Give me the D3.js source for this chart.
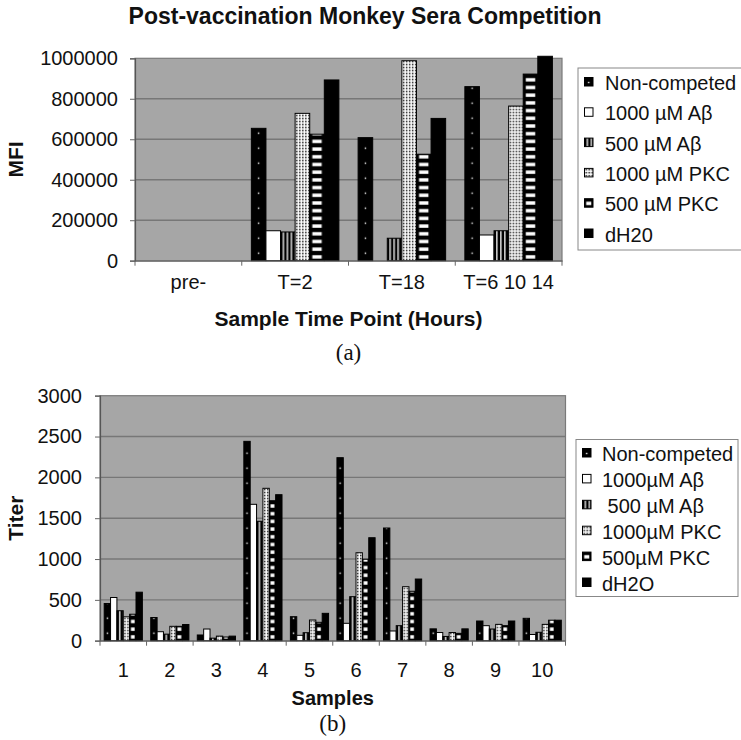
<!DOCTYPE html>
<html><head><meta charset="utf-8">
<script src="https://cdn.jsdelivr.net/npm/d3@7"></script>
<style>
body{margin:0;background:#fff}
svg{display:block}
text{font-family:"Liberation Sans",Arial,sans-serif;fill:#111}
.serif{font-family:"Liberation Serif","Times New Roman",serif}
</style>
</head><body>
<svg id="c" width="741" height="740"></svg>
<script>
// ---------- Data: chart (a) ----------
const topCategories = ["pre-", "T=2", "T=18", "T=6 10 14"];
const topSeriesNames = ["Non-competed", "1000 µM Aβ", "500 µM Aβ", "1000 µM PKC", "500 µM PKC", "dH20"];
const topNonCompeted = [null, 654000, 608000, 860000];
const top1000Ab      = [null, 148000, null, 127000];
const top500Ab       = [null, 142000, 111000, 148000];
const top1000PKC     = [null, 728000, 988000, 764000];
const top500PKC      = [null, 625000, 526000, 922000];
const topDH2O        = [null, 893000, 703000, 1010000];
const topYTicks = [0, 200000, 400000, 600000, 800000, 1000000];

// ---------- Data: chart (b) ----------
const botCategories = ["1", "2", "3", "4", "5", "6", "7", "8", "9", "10"];
const botSeriesNames = ["Non-competed", "1000µM Aβ", " 500 µM Aβ", "1000µM PKC", "500µM PKC", "dH2O"];
const botNonCompeted = [455, 284, 70, 2441, 294, 2241, 1380, 145, 241, 274];
const bot1000Ab      = [529, 110, 143, 1670, 66, 213, 119, 100, 184, 76];
const bot500Ab       = [367, 80, 31, 1462, 98, 539, 184, 52, 143, 103];
const bot1000PKC     = [292, 176, 56, 1866, 253, 1077, 661, 100, 200, 200];
const bot500PKC      = [324, 176, 45, 1714, 225, 997, 605, 90, 184, 251];
const botDH2O        = [594, 198, 56, 1788, 335, 1261, 755, 145, 241, 251];
const botYTicks = [0, 500, 1000, 1500, 2000, 2500, 3000];

const svg = d3.select("#c");
const defs = svg.append("defs");
let patId = 0;

// pattern fill for a series, aligned to a bar's box
function makeFill(si, x, w, yBase, dotStep) {
  if (si === 1) return "#fff";
  if (si === 5) return "#000";
  const id = "p" + (patId++);
  const p = defs.append("pattern").attr("id", id).attr("patternUnits", "userSpaceOnUse");
  if (si === 0) {
    p.attr("x", x).attr("y", yBase).attr("width", w).attr("height", dotStep);
    p.append("rect").attr("width", w).attr("height", dotStep).attr("fill", "#000");
    p.append("rect").attr("x", w / 2 - 0.7).attr("y", dotStep / 2 - 0.7).attr("width", 1.4).attr("height", 1.4).attr("fill", "#fff");
  } else if (si === 2) {
    p.attr("x", x).attr("y", 0).attr("width", 4).attr("height", 4);
    p.append("rect").attr("width", 4).attr("height", 4).attr("fill", "#000");
    p.append("rect").attr("x", 2.2).attr("width", 1.3).attr("height", 4).attr("fill", "#fff");
  } else if (si === 3) {
    p.attr("x", x).attr("y", yBase).attr("width", 3).attr("height", 3);
    p.append("rect").attr("width", 3).attr("height", 3).attr("fill", "#fff");
    p.append("rect").attr("x", 1).attr("y", 1).attr("width", 1.5).attr("height", 1.5).attr("fill", "#111");
  } else if (si === 4) {
    const h = 7.7;
    p.attr("x", x).attr("y", yBase).attr("width", w).attr("height", h);
    p.append("rect").attr("width", w).attr("height", h).attr("fill", "#000");
    const inset = Math.min(2.6, w * 0.2);
    p.append("rect").attr("x", inset).attr("y", 2.2).attr("width", Math.max(0, w - 2 * inset)).attr("height", 3.4).attr("fill", "#fff");
  }
  return "url(#" + id + ")";
}

function drawChart(cfg) {
  const g = svg.append("g");
  const x = d3.scaleBand().domain(cfg.categories).range([cfg.x0, cfg.x1]).padding(0);
  const cw = x.bandwidth();
  const groupW = cw * 0.82;
  const xs = d3.scaleBand().domain(d3.range(cfg.series.length)).range([(cw - groupW) / 2, (cw + groupW) / 2]).padding(0);
  const y = d3.scaleLinear().domain([0, cfg.yMax]).range([cfg.y0, cfg.yTop]);

  // plot background
  g.append("rect").attr("x", cfg.x0).attr("y", y(cfg.yMax)).attr("width", cfg.x1 - cfg.x0)
    .attr("height", cfg.y0 - y(cfg.yMax)).attr("fill", "#a6a6a6").attr("stroke", "#7a7a7a").attr("stroke-width", 1.2);
  // gridlines
  g.selectAll("line.grid").data(cfg.yTicks.filter(d => d > 0 && d < cfg.yMax)).enter().append("line")
    .attr("x1", cfg.x0).attr("x2", cfg.x1).attr("y1", d => y(d)).attr("y2", d => y(d))
    .attr("stroke", "#777").attr("stroke-width", 1.4);

  // bars
  cfg.series.forEach((vals, si) => {
    vals.forEach((v, ci) => {
      if (v == null) return;
      const bx = x(cfg.categories[ci]) + xs(si);
      const bw = xs.bandwidth();
      g.append("rect").attr("x", bx).attr("y", y(v)).attr("width", bw).attr("height", cfg.y0 - y(v))
        .attr("fill", makeFill(si, bx, bw, cfg.y0, cfg.dotStep))
        .attr("stroke", "#000").attr("stroke-width", 1);
    });
  });

  // y axis
  const ya = g.append("g").attr("transform", `translate(${cfg.x0},0)`)
    .call(d3.axisLeft(y).tickValues(cfg.yTicks).tickSize(5).tickPadding(cfg.tickPad).tickFormat(d3.format("d")));
  ya.select(".domain").attr("stroke", "#555").attr("stroke-width", 1.2);
  ya.selectAll(".tick line").attr("stroke", "#666");
  ya.selectAll(".tick text").style("font-size", "20px").attr("fill", "#111");

  // x axis (labels at centers, ticks at category boundaries)
  const xa = g.append("g").attr("transform", `translate(0,${cfg.y0})`)
    .call(d3.axisBottom(x).tickSize(0).tickPadding(cfg.xLabPad));
  xa.select(".domain").attr("stroke", "#666").attr("stroke-width", 1.2);
  xa.selectAll(".tick text").style("font-size", "20px").attr("fill", "#111");
  const bounds = cfg.categories.map(c => x(c)).concat([cfg.x1]);
  g.selectAll("line.xt").data(bounds).enter().append("line")
    .attr("x1", d => d).attr("x2", d => d).attr("y1", cfg.y0).attr("y2", cfg.y0 + 5)
    .attr("stroke", "#666").attr("stroke-width", 1);

  // axis titles
  g.append("text").attr("transform", `translate(${cfg.yTitleX},${(cfg.y0 + y(cfg.yMax)) / 2}) rotate(-90)`)
    .attr("text-anchor", "middle").style("font-size", "21px").style("font-weight", "bold").text(cfg.yTitle);
  g.append("text").attr("x", (cfg.x0 + cfg.x1) / 2 + cfg.xTitleDx).attr("y", cfg.xTitleY)
    .attr("text-anchor", "middle").style("font-size", cfg.xTitleSize).style("font-weight", "bold").text(cfg.xTitle);
  g.append("text").attr("class", "serif").attr("x", (cfg.x0 + cfg.x1) / 2 + cfg.xTitleDx).attr("y", cfg.capY)
    .attr("text-anchor", "middle").style("font-size", "23px").text(cfg.caption);

  // legend
  const L = cfg.legend;
  g.append("rect").attr("x", L.x).attr("y", L.y).attr("width", L.w).attr("height", L.h)
    .attr("fill", "#fff").attr("stroke", "#888").attr("stroke-width", 1);
  cfg.names.forEach((nm, i) => {
    const by = L.firstBase + i * L.step;
    const sx = L.sx, sw = 8.5, sy = by - 12.5;
    g.append("rect").attr("x", sx).attr("y", sy).attr("width", sw).attr("height", sw)
      .attr("fill", makeFill(i, sx, sw, sy + sw, 7)).attr("stroke", "#000").attr("stroke-width", 1);
    g.append("text").attr("x", L.tx).attr("y", by).style("font-size", "20px")
      .style("white-space", "pre").text(nm);
  });
}

// title
svg.append("text").attr("x", 365).attr("y", 24).attr("text-anchor", "middle")
  .style("font-size", "23px").style("font-weight", "bold").text("Post-vaccination Monkey Sera Competition");

drawChart({
  categories: topCategories,
  series: [topNonCompeted, top1000Ab, top500Ab, top1000PKC, top500PKC, topDH2O],
  names: topSeriesNames,
  x0: 135, x1: 562, y0: 260.7, yTop: 58.3, yMax: 1000000, yTicks: topYTicks,
  tickPad: 12, xLabPad: 14, dotStep: 15,
  yTitle: "MFI", yTitleX: 23,
  xTitle: "Sample Time Point (Hours)", xTitleY: 326, xTitleSize: "21px", xTitleDx: 0,
  caption: "(a)", capY: 360,
  legend: {x: 578, y: 68, w: 175, h: 182, firstBase: 90, step: 30.3, sx: 584.5, tx: 605}
});

drawChart({
  categories: botCategories,
  series: [botNonCompeted, bot1000Ab, bot500Ab, bot1000PKC, bot500PKC, botDH2O],
  names: botSeriesNames,
  x0: 100, x1: 565.5, y0: 640.7, yTop: 395.7, yMax: 3000, yTicks: botYTicks,
  tickPad: 13, xLabPad: 22, dotStep: 15,
  yTitle: "Titer", yTitleX: 23,
  xTitle: "Samples", xTitleY: 705, xTitleSize: "20px", xTitleDx: 0,
  caption: "(b)", capY: 731,
  legend: {x: 576, y: 439.5, w: 162, h: 157, firstBase: 461, step: 25.9, sx: 582.5, tx: 602}
});
</script>
</body></html>
